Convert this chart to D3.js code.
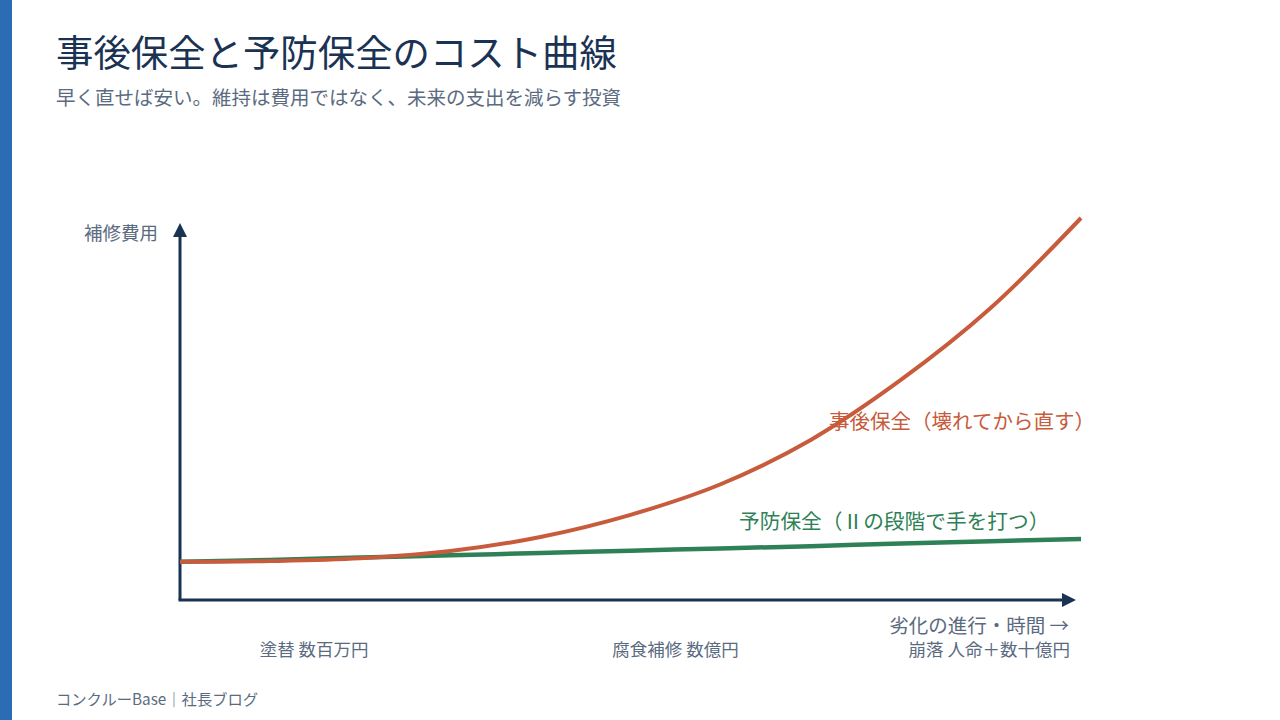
<!DOCTYPE html>
<html><head><meta charset="utf-8">
<script src="https://cdn.jsdelivr.net/npm/d3@7"></script>
<style>
html,body{margin:0;padding:0;background:#fff;}
svg{display:block;font-family:"Noto Sans CJK JP","Noto Sans",sans-serif;}
</style></head>
<body>
<svg id="c" width="1280" height="720"></svg>
<script>
// ---- data ----
const timeSteps = [0,1,2,3,4,5,6,7,8,9,10];
const reactiveCost = [10, 10.2, 10.9, 12.8, 16.5, 22.3, 30.3, 41.9, 57.6, 76.5, 100];
const preventiveCost = [10, 10.5, 11.1, 11.7, 12.3, 12.9, 13.5, 14.1, 14.8, 15.4, 16.0];
const stageLabels = ["塗替 数百万円", "腐食補修 数億円", "崩落 人命＋数十億円"];
const stagePositions = [1.5, 5.5, 10];
const titleText = "事後保全と予防保全のコスト曲線";
const subtitleText = "早く直せば安い。維持は費用ではなく、未来の支出を減らす投資";
const yAxisLabel = "補修費用";
const xAxisLabel = "劣化の進行・時間 →";
const reactiveLabel = "事後保全（壊れてから直す）";
const preventiveLabel = "予防保全（Ⅱの段階で手を打つ）";
const footerText = "コンクルーBase｜社長ブログ";

const svg = d3.select("#c");
const navy = "#1b3352", grey = "#5b6b7f", red = "#c75b3b", green = "#2e8156";

svg.append("rect").attr("x",0).attr("y",0).attr("width",12).attr("height",720).attr("fill","#2b6cb5");

svg.append("text").attr("x",56).attr("y",67).attr("font-size",37.4).attr("fill",navy).text(titleText);
svg.append("text").attr("x",56).attr("y",105).attr("font-size",19.5).attr("fill",grey).text(subtitleText);

const x = d3.scaleLinear().domain([0,10]).range([180,1081]);
const y = d3.scaleLinear().domain([0,100]).range([600,218]);

// axes
const axisG = svg.append("g");
axisG.append("line").attr("x1",180).attr("y1",600).attr("x2",180).attr("y2",236)
  .attr("stroke",navy).attr("stroke-width",3);
axisG.append("path").attr("d","M173,237 L180,223 L187,237 Z").attr("fill",navy);
axisG.append("line").attr("x1",178.5).attr("y1",600).attr("x2",1064).attr("y2",600)
  .attr("stroke",navy).attr("stroke-width",3);
axisG.append("path").attr("d","M1062,593 L1076,600 L1062,607 Z").attr("fill",navy);

svg.append("text").attr("x",158).attr("y",239.5).attr("text-anchor","end").attr("font-size",18.5).attr("fill",grey).text(yAxisLabel);
svg.append("text").attr("x",1069).attr("y",632.5).attr("text-anchor","end").attr("font-size",19.5).attr("fill",grey).text(xAxisLabel);

const anchors = ["middle","middle","end"];
const offsets = [-1,0,-11];
stageLabels.forEach((s,i)=>{
  svg.append("text").attr("x",x(stagePositions[i])+offsets[i]).attr("y",656)
    .attr("text-anchor",anchors[i]).attr("font-size",17.5).attr("fill",grey).text(s);
});

const line = d3.line().x((d,i)=>x(timeSteps[i])).y(d=>y(d)).curve(d3.curveCatmullRom.alpha(0.5));
svg.append("path").datum(preventiveCost).attr("d",line).attr("fill","none")
  .attr("stroke",green).attr("stroke-width",4.5);
svg.append("path").datum(reactiveCost).attr("d",line).attr("fill","none")
  .attr("stroke",red).attr("stroke-width",4);

svg.append("text").attr("x",829).attr("y",429).attr("font-size",20.5).attr("fill",red).text(reactiveLabel);
svg.append("text").attr("x",739).attr("y",528.5).attr("font-size",20.7).attr("fill",green).text(preventiveLabel);

svg.append("text").attr("x",56).attr("y",704.5).attr("font-size",15.3).attr("fill",grey).text(footerText);
</script>
</body></html>
